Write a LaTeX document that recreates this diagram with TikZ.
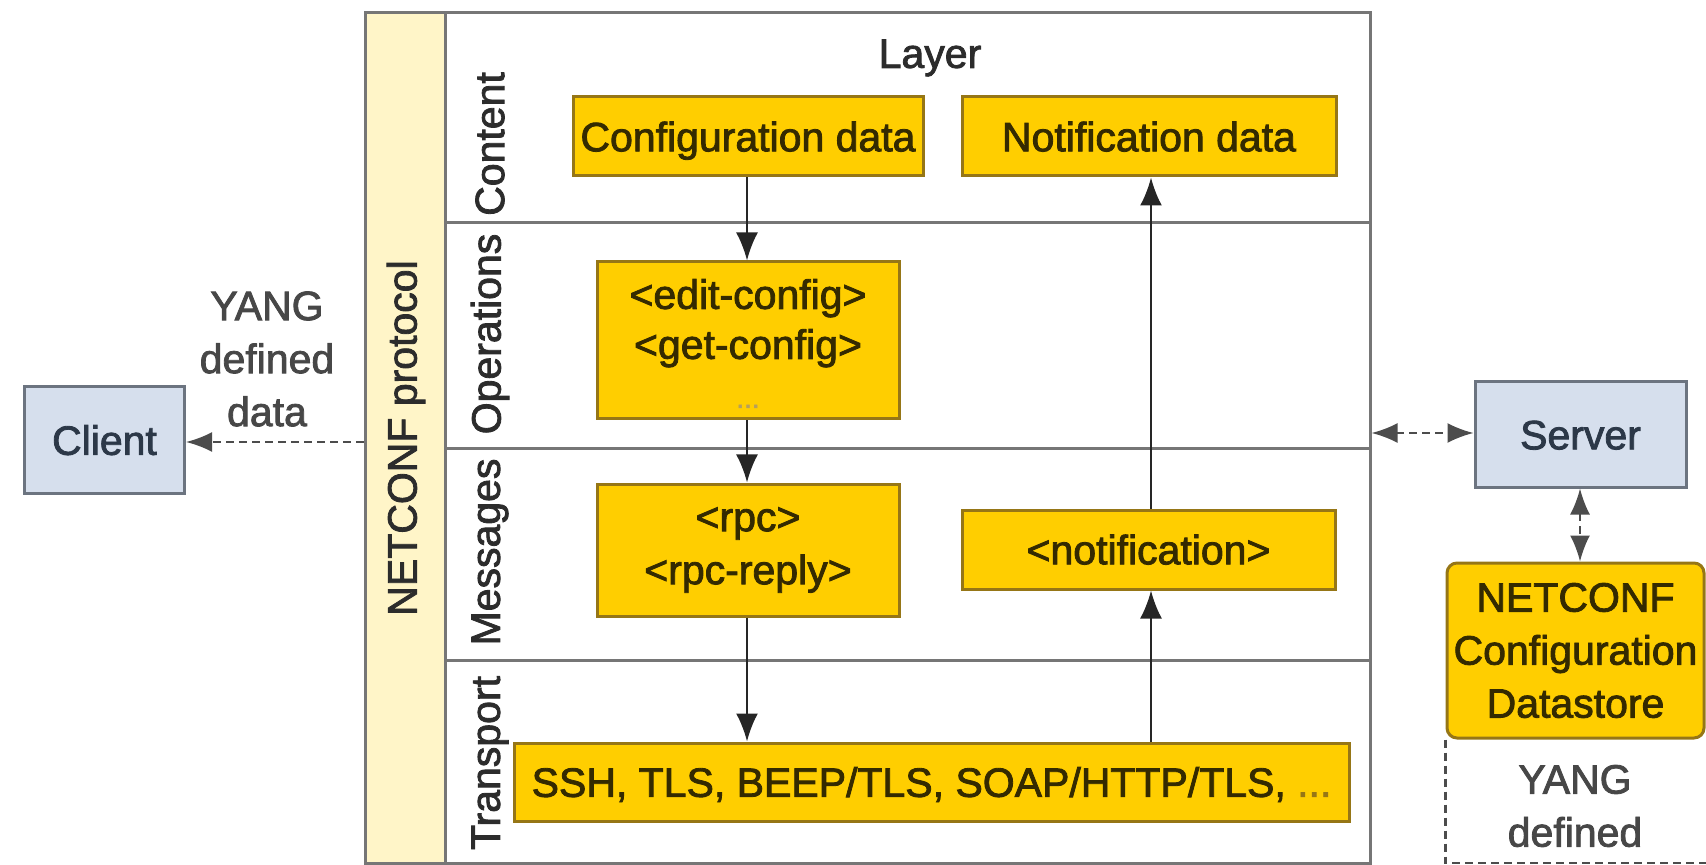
\documentclass[tikz,border=0pt]{standalone}
\usepackage{fontspec}
\setmainfont{Liberation Sans}[FakeBold=2]
\usetikzlibrary{arrows.meta,calc}

\definecolor{gold}{RGB}{255,206,0}
\definecolor{goldline}{RGB}{150,118,22}
\definecolor{goldtext}{RGB}{52,42,0}
\definecolor{protofill}{RGB}{255,245,200}
\definecolor{frameline}{RGB}{118,118,118}
\definecolor{hostfill}{RGB}{214,223,237}
\definecolor{hostline}{RGB}{108,116,128}
\definecolor{hosttext}{RGB}{44,56,72}
\definecolor{labeltext}{RGB}{44,44,44}

\newcommand{\bodyfont}{\fontsize{20.5}{25.5}\selectfont}

\tikzset{
  goldbox/.style={draw=goldline, fill=gold, line width=1.5pt, text=goldtext,
    inner sep=0pt, align=center, font=\bodyfont},
  hostbox/.style={draw=hostline, fill=hostfill, line width=1.5pt, text=hosttext,
    inner sep=0pt, align=center, font=\bodyfont},
  oneline/.style={text height=14.8pt, text depth=0pt},
  lbl/.style={text=labeltext, inner sep=0pt, align=center, font=\bodyfont},
  flow/.style={-{Latex[length=14pt,width=11pt]}, line width=1.2pt, draw=black!85},
  dashlink/.style={dash pattern=on 4pt off 2.5pt, line width=1.1pt, draw=black!70},
  dashtip/.style={{Latex[length=13pt,width=10pt]}-{Latex[length=13pt,width=10pt]}},
}

\begin{document}
\begin{tikzpicture}[x=0.5pt,y=-0.5pt]
\useasboundingbox (0,0) rectangle (1706,865);
\begin{scope}
\clip (0,0) rectangle (1706,865);

% protocol stack frame and the NETCONF column
\node (frame) [draw=frameline, line width=1.5pt, minimum width=502.5pt,
  minimum height=425pt, inner sep=0pt] at (867.5,438) {};
\node (proto) [draw=frameline, fill=protofill, line width=1.5pt,
  minimum width=40pt, minimum height=425pt, inner sep=0pt] at (405,438) {};
\node (protolbl) [lbl, rotate=90] at (406,438) {NETCONF protocol};

% layer separators
\draw[frameline, line width=1.5pt] (proto.east |- 0,223) -- (frame.east |- 0,223);
\draw[frameline, line width=1.5pt] (proto.east |- 0,449) -- (frame.east |- 0,449);
\draw[frameline, line width=1.5pt] (proto.east |- 0,660) -- (frame.east |- 0,660);

\node (layer) [lbl] at (930,58) {Layer};
\node (lcontent) [lbl, rotate=90] at (490,144) {Content};
\node (lops) [lbl, rotate=90] at (490,334) {Operations};
\node (lmsg) [lbl, rotate=90] at (490,552) {Messages};
\node (ltrans) [lbl, rotate=90] at (490,763) {Transport};

% content layer
\node (cfg) [goldbox, oneline, minimum width=175pt, minimum height=39.5pt] at (748,136.5) {Configuration data};
\node (ntf) [goldbox, oneline, minimum width=187pt, minimum height=39.5pt] at (1149,136.5) {Notification data};

% operations layer
\node (ops) [goldbox, minimum width=151pt, minimum height=78.5pt] at (748,340.5)
  {\strut\textless edit-config\textgreater\\[-0.5pt]
   \strut\textless get-config\textgreater\\[-1pt]
   {\color{goldline!70}\fontsize{14}{16}\selectfont ...}};

% messages layer
\node (rpc) [goldbox, minimum width=151pt, minimum height=66pt] at (748,550)
  {\textless rpc\textgreater\\[1pt] \textless rpc-reply\textgreater};
\node (notif) [goldbox, oneline, minimum width=186.5pt, minimum height=39.5pt] at (1148.5,549.5)
  {\textless notification\textgreater};

% transport layer
\node (tr) [goldbox, oneline, minimum width=417.5pt, minimum height=39pt] at (931.5,782)
  {SSH, TLS, BEEP/TLS, SOAP/HTTP/TLS, {\color{goldline}...}};

% data flow through the layers
\draw[flow] (cfg.south -| 747,0) -- (ops.north -| 747,0);
\draw[flow] (ops.south -| 747,0) -- (rpc.north -| 747,0);
\draw[flow] (rpc.south -| 747,0) -- (tr.north -| 747,0);
\draw[flow] (tr.north -| 1151,0) -- (notif.south -| 1151,0);
\draw[flow] (notif.north -| 1151,0) -- (ntf.south -| 1151,0);

% client side
\node (client) [hostbox, oneline, minimum width=80pt, minimum height=53pt] at (104.5,440) {Client};
\node (yang1) [lbl, text=black!72] at (267,359)
  {YANG\\[1pt] defined\\[1pt] data};
\draw[dashlink, -{Latex[length=13pt,width=10pt]}] (proto.west |- 0,442) -- (client.east |- 0,442);

% server side
\node (server) [hostbox, oneline, minimum width=105.5pt, minimum height=52.5pt] at (1580.5,434.5) {Server};
\draw[dashlink, dashtip] (frame.east |- 0,433) -- (server.west |- 0,433);

\node (store) [goldbox, rounded corners=5pt, minimum width=128.5pt, minimum height=87.5pt]
  at (1575.5,650.5) {NETCONF\\[1pt] Configuration\\[1pt] Datastore};
\draw[dashlink, dashtip] (server.south -| 1580,0) -- (store.north -| 1580,0);

% YANG defined region below the datastore
\coordinate (ycorner) at (store.south west |- 0,863);
\draw[dashlink] (store.south west) -- (ycorner) -- (ycorner -| 1706,0);
\node (yang2) [lbl, text=black!72] at (1575,806) {YANG\\[1pt] defined};
\end{scope}
\end{tikzpicture}
\end{document}
